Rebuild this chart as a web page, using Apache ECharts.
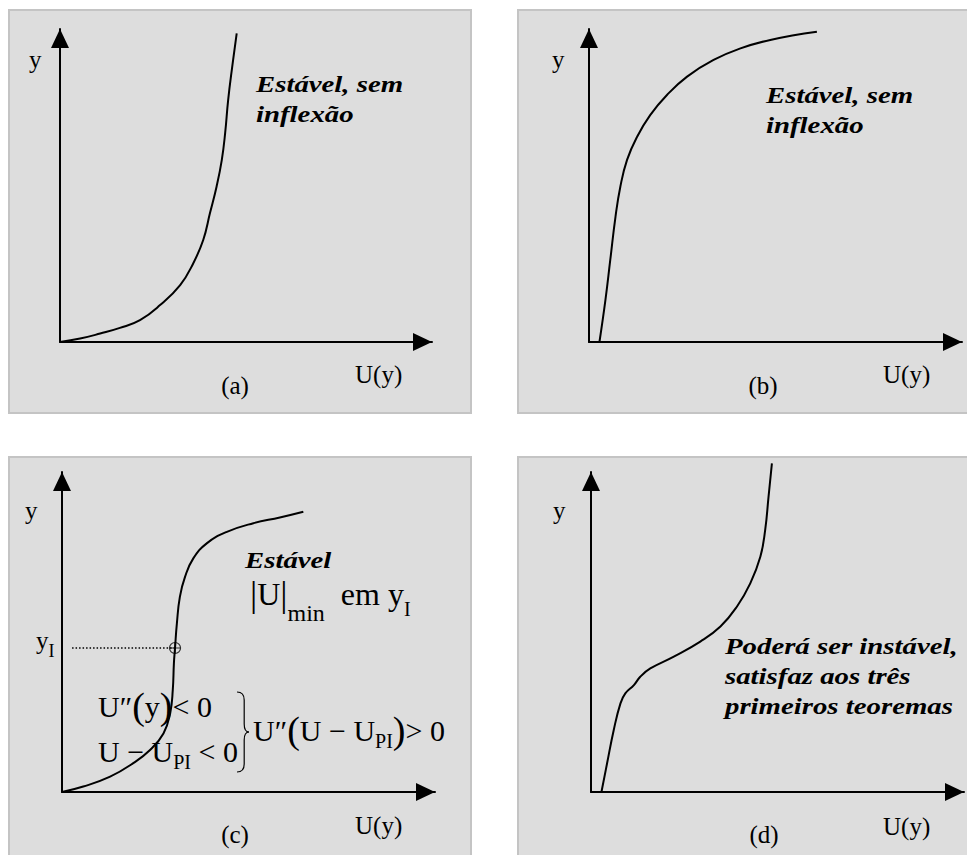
<!DOCTYPE html>
<html>
<head>
<meta charset="utf-8">
<title>Perfis U(y)</title>
<script src="https://cdn.jsdelivr.net/npm/echarts@6/dist/echarts.min.js"></script>
<style>
    html, body { margin: 0; padding: 0; background: #ffffff; }
    #grafico { width: 967px; height: 855px; }
</style>
</head>
<body>
<div id="grafico"></div>
<script>
// curvas, em unidades do eixo (0..100)
let curvaA = [[0, 0], [5.4, 1.1], [10.8, 2.7], [16.1, 4.5], [21.5, 7.0], [26.9, 11.8],
    [32.3, 18.2], [35.8, 25.1], [38.5, 32.6], [40.3, 41.1], [42.1, 49.7], [43.5, 58.2],
    [44.4, 66.8], [45.2, 77.3], [46.3, 88.0], [47.5, 98.6]];
let curvaB = [[2.8, 0], [4.4, 13.4], [5.7, 26.2], [7.1, 40.0], [8.4, 49.6], [10.2, 58.2],
    [12.9, 65.6], [16.4, 72.5], [20.9, 78.9], [26.3, 84.8], [33.4, 90.1], [40.6, 93.8],
    [48.6, 96.5], [61.1, 99.1]];
let curvaC = [[0, 0], [5.7, 1.7], [12.9, 4.8], [19.1, 9.0], [23.6, 13.1], [27.2, 18.3],
    [29.0, 24.6], [29.7, 31.9], [30.0, 40.2], [30.3, 45.0], [30.8, 52.7], [31.6, 61.0],
    [33.0, 67.3], [35.2, 73.0], [38.8, 77.7], [44.2, 81.3], [51.3, 84.0], [58.4, 85.8], [64.7, 87.6]];
let curvaD = [[2.8, 0], [4.3, 8.9], [6.1, 19.4], [7.9, 27.7], [9.2, 30.8], [11.5, 33.4],
    [13.2, 36.0], [15.9, 38.6], [22.2, 42.3], [29.3, 47.0], [34.7, 51.7], [39.1, 57.9],
    [42.7, 65.2], [45.4, 73.5], [46.7, 81.9], [47.6, 92.3], [48.5, 102.7]];

// ponto de inflexão y_I no painel (c)
let pontoInflexao = [30.3, 45.0];
let inicioPontilhado = 2.7;

// textos
let rotuloY = 'y';
let rotuloX = 'U(y)';
let letras = ['(a)', '(b)', '(c)', '(d)'];
let notaA = 'Estável, sem\ninflexão';
let notaC = 'Estável';
let notaD = 'Poderá ser instável,\nsatisfaz aos três\nprimeiros teoremas';

let chart = echarts.init(document.getElementById('grafico'), null, { renderer: 'svg' });

let fonte = '"Liberation Serif", "Times New Roman", serif';

// posição de cada painel: origem dos eixos e pontas das setas
let grids = [
    { left: 60, top: 29, width: 372, height: 313 },
    { left: 589, top: 29, width: 373, height: 313 },
    { left: 62, top: 472, width: 373, height: 320 },
    { left: 591, top: 472, width: 373, height: 320 }
];

function eixo(idx) {
    return {
        type: 'value',
        gridIndex: idx,
        min: 0,
        max: 100,
        axisLine: {
            show: true,
            onZero: false,
            symbol: ['none', 'triangle'],
            symbolSize: [18, 19],
            symbolOffset: [0, -9.5],
            lineStyle: { color: '#000', width: 2 }
        },
        axisTick: { show: false },
        axisLabel: { show: false },
        splitLine: { show: false }
    };
}

function curva(dados, idx) {
    return {
        type: 'line',
        xAxisIndex: idx,
        yAxisIndex: idx,
        data: dados,
        smooth: 0.45,
        symbol: 'none',
        clip: false,
        lineStyle: { color: '#000', width: 2 }
    };
}

function texto(x, y, t, opts, extra) {
    return Object.assign({
        type: 'text',
        x: x,
        y: y,
        z: 10,
        style: Object.assign({
            text: t,
            fontFamily: fonte,
            fontSize: 25,
            fill: '#000',
            textAlign: 'left',
            textVerticalAlign: 'middle'
        }, opts || {})
    }, extra || {});
}

// notas em negrito itálico (a fonte original é mais larga, daí o scaleX)
function nota(x, y, t) {
    return texto(x, y, t, {
        fontStyle: 'italic',
        fontWeight: 'bold',
        fontSize: 24,
        lineHeight: 30,
        textVerticalAlign: 'top'
    }, { scaleX: 1.2 });
}

// estilos do texto matemático (todos alinhados pelo topo)
let ricoMat = {
    m: { fontFamily: fonte, fontSize: 30, lineHeight: 36, verticalAlign: 'top', padding: [4, 0, 0, 0] },
    M: { fontFamily: fonte, fontSize: 32, lineHeight: 38, verticalAlign: 'top', padding: [4, 0, 0, 0] },
    b: { fontFamily: fonte, fontSize: 36, lineHeight: 38, verticalAlign: 'top', padding: [2, 0, 0, 0] },
    p: { fontFamily: fonte, fontSize: 38, lineHeight: 38, verticalAlign: 'top', padding: [0, 0, 0, 0] },
    pi: { fontFamily: fonte, fontSize: 20, lineHeight: 20, verticalAlign: 'top', padding: [20, 0, 0, 0] },
    min: { fontFamily: fonte, fontSize: 24, lineHeight: 24, verticalAlign: 'top', padding: [27, 0, 0, 0] },
    i: { fontFamily: fonte, fontSize: 20, lineHeight: 20, verticalAlign: 'top', padding: [25, 0, 0, 0] },
    y: { fontFamily: fonte, fontSize: 25, lineHeight: 30, verticalAlign: 'top', padding: [4, 0, 0, 0] },
    yi: { fontFamily: fonte, fontSize: 18, lineHeight: 18, verticalAlign: 'top', padding: [18, 0, 0, 0] }
};

function formula(x, top, t) {
    return texto(x, top, t, { rich: ricoMat, textVerticalAlign: 'top' });
}

// chave "}" entre as duas condições do painel (c)
function chave(x, y1, y2, w) {
    let meio = (y1 + y2) / 2;
    let traco = { stroke: '#000', lineWidth: 1.2, fill: 'none' };
    let pedacos = [
        { x1: x, y1: y1, cpx1: x + w * 0.6, cpy1: y1, x2: x + w * 0.6, y2: y1 + 8 },
        { x1: x + w * 0.6, y1: meio - 8, cpx1: x + w * 0.6, cpy1: meio, x2: x + w, y2: meio },
        { x1: x + w, y1: meio, cpx1: x + w * 0.6, cpy1: meio, x2: x + w * 0.6, y2: meio + 8 },
        { x1: x + w * 0.6, y1: y2 - 8, cpx1: x + w * 0.6, cpy1: y2, x2: x, y2: y2 }
    ];
    let filhos = pedacos.map(function(s) {
        return { type: 'bezierCurve', shape: s, style: traco };
    });
    filhos.push({ type: 'line', shape: { x1: x + w * 0.6, y1: y1 + 8, x2: x + w * 0.6, y2: meio - 8 }, style: traco });
    filhos.push({ type: 'line', shape: { x1: x + w * 0.6, y1: meio + 8, x2: x + w * 0.6, y2: y2 - 8 }, style: traco });
    return { type: 'group', z: 10, children: filhos };
}

let quadro = { fill: '#dddddd', stroke: '#c4c4c4', lineWidth: 2 };

let option = {
    animation: false,
    backgroundColor: '#ffffff',
    grid: grids,
    xAxis: [eixo(0), eixo(1), eixo(2), eixo(3)],
    yAxis: [eixo(0), eixo(1), eixo(2), eixo(3)],
    series: [
        curva(curvaA, 0),
        curva(curvaB, 1),
        curva(curvaC, 2),
        curva(curvaD, 3),
        {
            type: 'line',
            xAxisIndex: 2,
            yAxisIndex: 2,
            data: [[inicioPontilhado, pontoInflexao[1]], pontoInflexao],
            symbol: 'none',
            lineStyle: { color: '#000', width: 1.5, type: [1.5, 2] }
        },
        {
            type: 'scatter',
            xAxisIndex: 2,
            yAxisIndex: 2,
            data: [pontoInflexao],
            symbol: 'path://M0,10 A10,10 0 1,1 20,10 A10,10 0 1,1 0,10 Z M10,0 L10,20 M0,10 L20,10',
            symbolSize: 11,
            itemStyle: { color: 'transparent', borderColor: '#000', borderWidth: 1.2 },
            z: 5
        }
    ],
    graphic: [
        { type: 'rect', z: -10, shape: { x: 9, y: 10, width: 462, height: 403 }, style: quadro },
        { type: 'rect', z: -10, shape: { x: 518, y: 10, width: 460, height: 403 }, style: quadro },
        { type: 'rect', z: -10, shape: { x: 9, y: 457, width: 462, height: 410 }, style: quadro },
        { type: 'rect', z: -10, shape: { x: 518, y: 457, width: 460, height: 410 }, style: quadro },

        // painel (a)
        texto(29, 59, rotuloY),
        texto(355, 374, rotuloX),
        texto(235, 385, letras[0], { textAlign: 'center' }),
        nota(256, 69, notaA),

        // painel (b)
        texto(552, 59, rotuloY),
        texto(883, 374, rotuloX),
        texto(763, 385, letras[1], { textAlign: 'center' }),
        nota(766, 80, notaA),

        // painel (c)
        texto(25, 510, rotuloY),
        texto(355, 825, rotuloX),
        texto(235, 834, letras[2], { textAlign: 'center' }),
        nota(245, 545, notaC),
        formula(36, 624, '{y|y}{yi|I}'),
        formula(250, 574, '{b||}{M|U}{b||}{min|min}{M|  em y}{i|I}'),
        formula(98, 687, '{m|U″}{p|(}{m|y}{p|)}{m|< 0}'),
        formula(98, 732, '{m|U − U}{pi|PI}{m| < 0}'),
        formula(253, 711, '{m|U″}{p|(}{m|U − U}{pi|PI}{p|)}{m|> 0}'),
        chave(237, 692, 772, 12),

        // painel (d)
        texto(553, 510, rotuloY),
        texto(883, 826, rotuloX),
        texto(764, 834, letras[3], { textAlign: 'center' }),
        nota(725, 631, notaD)
    ]
};

chart.setOption(option);
</script>
</body>
</html>
